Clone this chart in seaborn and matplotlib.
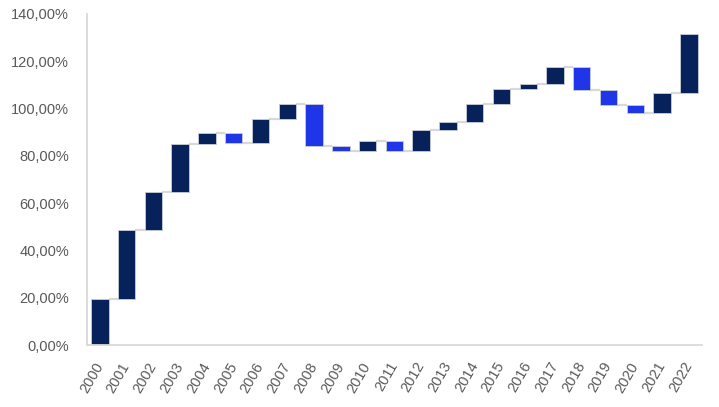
import numpy as np
import pandas as pd
import matplotlib
matplotlib.use("Agg")
import matplotlib.pyplot as plt
import seaborn as sns

years = [str(y) for y in range(2000, 2023)]
changes = [19.5, 29.1, 16.0, 20.6, 4.3, -4.0, 9.9, 6.6, -17.7, -2.4, 4.5, -4.5,
           9.1, 3.5, 7.5, 6.4, 2.1, 6.9, -9.5, -6.6, -3.3, 8.6, 24.8]
ytick_vals = [0, 20, 40, 60, 80, 100, 120, 140]

ends = np.cumsum(changes)
starts = ends - np.array(changes)
bottoms = np.minimum(starts, ends)
heights = np.abs(changes)

df = pd.DataFrame({"year": years, "height": heights, "bottom": bottoms,
                   "change": changes})

sns.set_theme(style="white")
plt.rcParams["font.family"] = ["Liberation Sans", "DejaVu Sans"]

fig = plt.figure(figsize=(7.19, 4.07), dpi=100)
ax = fig.add_axes([0.121, 0.152, 0.855, 0.814])

UP = "#07215A"
DOWN = "#1E36E8"

sns.barplot(data=df, x="year", y="height", bottom=df["bottom"].values,
            width=0.65, ax=ax, color=UP, edgecolor="#C8CCD6", linewidth=0.6,
            saturation=1)
for p, c in zip(ax.patches, changes):
    p.set_facecolor(UP if c >= 0 else DOWN)

# connectors
w = 0.65
for i in range(len(years) - 1):
    ax.plot([i + w / 2, i + 1 - w / 2], [ends[i], ends[i]],
            color="#D9D9D9", lw=1.6, zorder=0.5, solid_capstyle="butt")

ax.set_xlim(-0.48, len(years) - 0.52)
ax.set_ylim(0, 140)
ax.set_yticks(ytick_vals)
ax.set_yticklabels([f"{v:.2f}%".replace(".", ",") for v in ytick_vals])
ax.set_xlabel("")
ax.set_ylabel("")

for s in ["top", "right"]:
    ax.spines[s].set_visible(False)
for s in ["left", "bottom"]:
    ax.spines[s].set_color("#D9D9D9")
    ax.spines[s].set_linewidth(1.3)

ax.tick_params(axis="y", length=0, labelsize=10.5, labelcolor="#595959", pad=13)
ax.tick_params(axis="x", length=0, labelsize=10.5, labelcolor="#595959", pad=13)
for lab in ax.get_xticklabels():
    lab.set_rotation(60)
    lab.set_ha("right")
    lab.set_va("center")
    lab.set_rotation_mode("anchor")

fig.savefig("out.png", dpi=100)
